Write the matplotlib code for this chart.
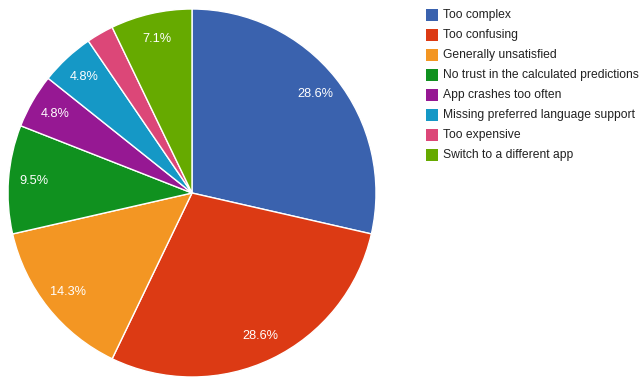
import matplotlib
matplotlib.use("Agg")
import matplotlib.pyplot as plt
from matplotlib.patches import Rectangle

categories = ["Too complex", "Too confusing", "Generally unsatisfied",
              "No trust in the calculated predictions", "App crashes too often",
              "Missing preferred language support", "Too expensive",
              "Switch to a different app"]
counts = [12, 12, 6, 4, 2, 2, 1, 3]
colors = ["#3a62ae", "#dc3a14", "#f39623", "#10911f", "#961893",
          "#1598c6", "#dc4778", "#66aa00"]

plt.rcParams['font.family'] = ['Liberation Sans', 'DejaVu Sans']
W, H = 642, 377
fig = plt.figure(figsize=(W/100, H/100), dpi=100)

cx, cy, r = 192, 193, 184
ax = fig.add_axes([(cx - r)/W, (H - cy - r)/H, 2*r/W, 2*r/H])

def fmt(p):
    return "%.1f%%" % p if p > 3 else ""

wedges, texts, autotexts = ax.pie(
    counts, colors=colors, startangle=90, counterclock=False,
    autopct=fmt, pctdistance=0.86,
    wedgeprops=dict(edgecolor="white", linewidth=1),
    textprops=dict(color="white", fontsize=9.2))
ax.set_aspect("equal")
ax.set_xlim(-1, 1)
ax.set_ylim(-1, 1)

lax = fig.add_axes([0, 0, 1, 1])
lax.set_xlim(0, W)
lax.set_ylim(H, 0)
lax.axis("off")
for i, (lab, col) in enumerate(zip(categories, colors)):
    yc = 15 + 20*i
    lax.add_patch(Rectangle((426, yc - 6), 12, 12, facecolor=col, edgecolor="none"))
    lax.text(443, yc, lab, fontsize=8.7, color="#222222", va="center", ha="left")

fig.savefig("out.png", dpi=100)
